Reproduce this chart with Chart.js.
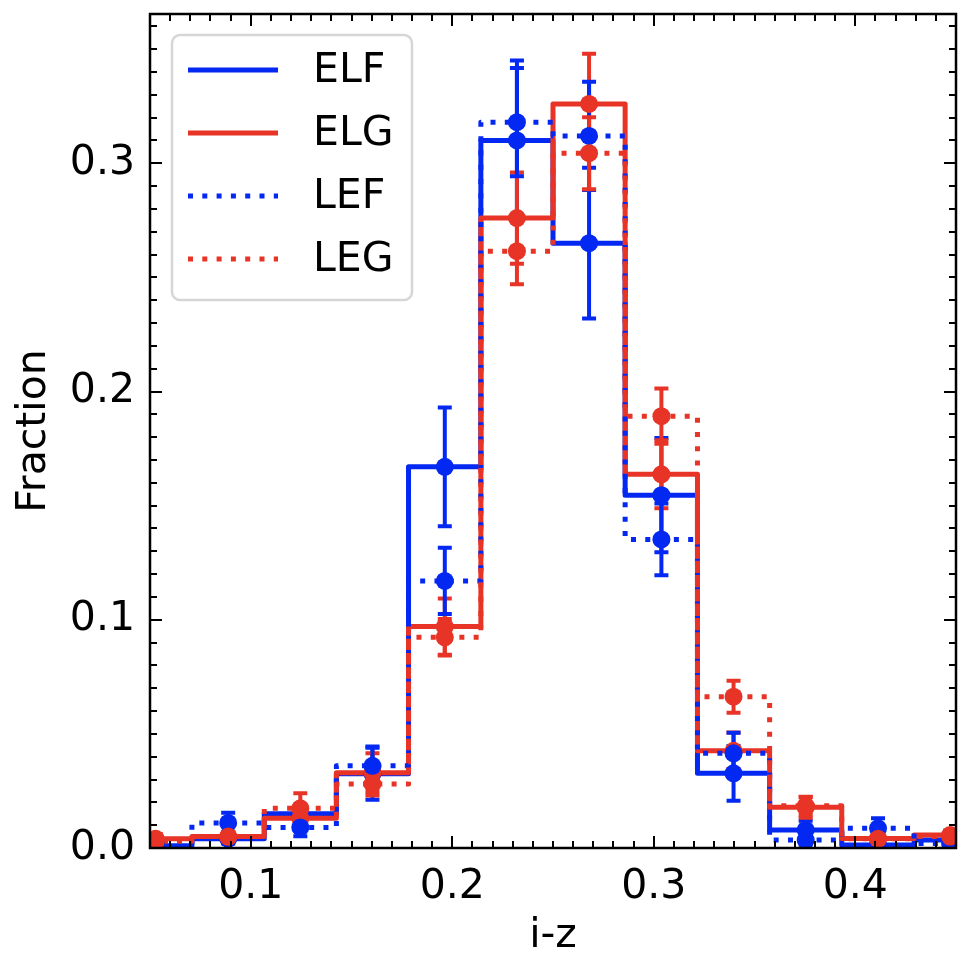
<!DOCTYPE html>
<html>
<head>
<meta charset="utf-8">
<script src="https://cdn.jsdelivr.net/npm/chart.js@4.4.1/dist/chart.umd.min.js"></script>
<style>
  html, body { margin: 0; padding: 0; background: #fff; }
  #wrap { width: 974px; height: 964px; }
</style>
</head>
<body>
<div id="wrap"><canvas id="histChart" width="974" height="964"></canvas></div>
<script>
// Histogram bins (i-z)
const binEdges = [0.035, 0.0708, 0.1067, 0.1425, 0.1783, 0.2142, 0.25, 0.2858, 0.3217, 0.3575, 0.3933, 0.4292, 0.465];
const binCenters = [0.0529, 0.0888, 0.1246, 0.1604, 0.1963, 0.2321, 0.2679, 0.3038, 0.3396, 0.3754, 0.4113, 0.4471];

// Fractions per bin and their errors
const elfFrac = [0.001, 0.004, 0.015, 0.0325, 0.167, 0.310, 0.265, 0.1546, 0.0327, 0.0079, 0.0013, 0.0035];
const elfErr  = [0.001, 0.002, 0.004, 0.0114, 0.026, 0.035, 0.033, 0.025, 0.012, 0.004, 0.001, 0.002];
const elgFrac = [0.004, 0.005, 0.013, 0.033, 0.097, 0.276, 0.326, 0.1637, 0.0426, 0.0178, 0.0042, 0.0057];
const elgErr  = [0.002, 0.002, 0.004, 0.0085, 0.0123, 0.020, 0.022, 0.0149, 0.008, 0.0045, 0.002, 0.002];
const lefFrac = [0.002, 0.011, 0.009, 0.036, 0.117, 0.318, 0.312, 0.1352, 0.0415, 0.0035, 0.0086, 0.002];
const lefErr  = [0.001, 0.0044, 0.0038, 0.0085, 0.0145, 0.0237, 0.0237, 0.0157, 0.009, 0.002, 0.0044, 0.001];
const legFrac = [0.003, 0.005, 0.0174, 0.028, 0.0923, 0.2615, 0.3044, 0.1892, 0.0663, 0.0185, 0.004, 0.005];
const legErr  = [0.0015, 0.002, 0.0066, 0.005, 0.008, 0.0145, 0.0158, 0.0121, 0.007, 0.004, 0.002, 0.002];

// Axis ticks
const xTickValues = [0.1, 0.2, 0.3, 0.4];
const xTickLabels = ['0.1', '0.2', '0.3', '0.4'];
const yTickValues = [0.0, 0.1, 0.2, 0.3];
const yTickLabels = ['0.0', '0.1', '0.2', '0.3'];
const minorStep = 0.01;

const BLUE = '#0328f2';
const RED = '#e83426';
const FONT = '"DejaVu Sans", sans-serif';
const DOTTED = [5, 9.3];

Chart.defaults.font.family = FONT;
Chart.defaults.color = '#000';

const series = [
    { label: 'ELF', color: BLUE, dash: [], values: elfFrac, errs: elfErr },
    { label: 'ELG', color: RED, dash: [], values: elgFrac, errs: elgErr },
    { label: 'LEF', color: BLUE, dash: DOTTED, values: lefFrac, errs: lefErr },
    { label: 'LEG', color: RED, dash: DOTTED, values: legFrac, errs: legErr }
];

function stepPoints(values) {
    const pts = values.map((v, i) => ({ x: binEdges[i], y: v }));
    pts.push({ x: binEdges[binEdges.length - 1], y: values[values.length - 1] });
    return pts;
}

// steps first (drawn under), then dots
const datasets = [];
series.forEach((s, i) => {
    datasets.push({
        type: 'line',
        label: s.label,
        data: stepPoints(s.values),
        borderColor: s.color,
        borderWidth: 5,
        borderDash: s.dash,
        borderJoinStyle: 'round',
        stepped: true,
        pointRadius: 0,
        fill: false,
        clip: 0,
        order: 8 - i
    });
});
const firstDotIndex = datasets.length;
series.forEach((s, i) => {
    datasets.push({
        type: 'scatter',
        label: s.label + ' pts',
        data: s.values.map((v, k) => ({ x: binCenters[k], y: v })),
        pointRadius: 9,
        pointBorderWidth: 0,
        pointBackgroundColor: s.color,
        showLine: false,
        clip: 0,
        order: 4 - i
    });
});

// Error bars go between the step lines and the markers
const errorBars = {
    id: 'errorBars',
    beforeDatasetDraw(chart, args) {
        if (args.index !== firstDotIndex) return;
        const { ctx, chartArea, scales: { x, y } } = chart;
        ctx.save();
        ctx.beginPath();
        ctx.rect(chartArea.left, chartArea.top, chartArea.right - chartArea.left, chartArea.bottom - chartArea.top);
        ctx.clip();
        series.forEach(s => {
            ctx.strokeStyle = s.color;
            ctx.lineWidth = 4;
            ctx.setLineDash([]);
            s.values.forEach((v, k) => {
                const px = x.getPixelForValue(binCenters[k]);
                const top = y.getPixelForValue(v + s.errs[k]);
                const bot = y.getPixelForValue(v - s.errs[k]);
                ctx.beginPath();
                ctx.moveTo(px, top); ctx.lineTo(px, bot);
                ctx.moveTo(px - 7, top); ctx.lineTo(px + 7, top);
                ctx.moveTo(px - 7, bot); ctx.lineTo(px + 7, bot);
                ctx.stroke();
            });
        });
        ctx.restore();
    }
};

// Inward ticks on all four sides plus the frame
const frameTicks = {
    id: 'frameTicks',
    afterDatasetsDraw(chart) {
        const { ctx, chartArea: a, scales: { x, y } } = chart;
        ctx.save();
        ctx.strokeStyle = '#000';
        ctx.lineWidth = 2;
        const isMajor = (v, majors) => majors.some(m => Math.abs(m - v) < 1e-6);
        const xStart = Math.ceil(x.min / minorStep - 1e-6);
        const xEnd = Math.floor(x.max / minorStep + 1e-6);
        for (let k = xStart; k <= xEnd; k++) {
            const v = k * minorStep;
            const px = Math.round(x.getPixelForValue(v));
            const len = isMajor(v, xTickValues) ? 12 : 7;
            ctx.beginPath();
            ctx.moveTo(px, a.bottom); ctx.lineTo(px, a.bottom - len);
            ctx.moveTo(px, a.top); ctx.lineTo(px, a.top + len);
            ctx.stroke();
        }
        const yEnd = Math.floor(y.max / minorStep + 1e-6);
        for (let k = 0; k <= yEnd; k++) {
            const v = k * minorStep;
            const py = Math.round(y.getPixelForValue(v));
            const len = isMajor(v, yTickValues) ? 12 : 7;
            ctx.beginPath();
            ctx.moveTo(a.left, py); ctx.lineTo(a.left + len, py);
            ctx.moveTo(a.right, py); ctx.lineTo(a.right - len, py);
            ctx.stroke();
        }
        ctx.lineWidth = 2.5;
        ctx.strokeRect(a.left, a.top, a.right - a.left, a.bottom - a.top);
        ctx.restore();
    }
};

// Matplotlib-style legend box in the upper left
const boxLegend = {
    id: 'boxLegend',
    afterDraw(chart) {
        const { ctx } = chart;
        const bx = 172, by = 35, bw = 240, bh = 265, r = 8;
        ctx.save();
        ctx.beginPath();
        ctx.roundRect(bx, by, bw, bh, r);
        ctx.fillStyle = 'rgba(255,255,255,0.8)';
        ctx.fill();
        ctx.lineWidth = 2.5;
        ctx.strokeStyle = '#d6d6d6';
        ctx.stroke();
        series.forEach((s, i) => {
            const ds = chart.data.datasets[i];
            const yy = 70 + 63 * i;
            ctx.beginPath();
            ctx.strokeStyle = ds.borderColor;
            ctx.lineWidth = ds.borderWidth;
            ctx.setLineDash(ds.borderDash);
            ctx.moveTo(188, yy);
            ctx.lineTo(278, yy);
            ctx.stroke();
            ctx.setLineDash([]);
            ctx.fillStyle = '#000';
            ctx.font = '41px ' + FONT;
            ctx.textBaseline = 'middle';
            ctx.textAlign = 'left';
            ctx.fillText(ds.label, 313, yy + 1);
        });
        ctx.restore();
    }
};

new Chart(document.getElementById('histChart').getContext('2d'), {
    data: { datasets: datasets },
    options: {
        responsive: false,
        animation: false,
        devicePixelRatio: 1,
        events: [],
        layout: { padding: { top: 14, right: 18, bottom: 0, left: 0 }, autoPadding: false },
        plugins: {
            legend: { display: false },
            tooltip: { enabled: false }
        },
        scales: {
            x: {
                type: 'linear',
                min: 0.05,
                max: 0.45,
                grid: { display: false, drawTicks: false },
                border: { display: false },
                afterBuildTicks: s => { s.ticks = xTickValues.map(v => ({ value: v })); },
                afterFit: s => { s.height = 116; s.paddingLeft = 0; s.paddingRight = 0; },
                ticks: {
                    autoSkip: false,
                    maxRotation: 0,
                    padding: 15,
                    font: { size: 41 },
                    color: '#000',
                    callback: (v, i) => xTickLabels[i]
                },
                title: {
                    display: true,
                    text: 'i-z',
                    font: { size: 41 },
                    color: '#000',
                    padding: { top: 0, bottom: 3 }
                }
            },
            y: {
                type: 'linear',
                min: 0,
                max: 0.3654,
                grid: { display: false, drawTicks: false },
                border: { display: false },
                afterBuildTicks: s => { s.ticks = yTickValues.map(v => ({ value: v })); },
                afterFit: s => { s.width = 150; s.paddingTop = 0; s.paddingBottom = 0; },
                ticks: {
                    autoSkip: false,
                    padding: 15,
                    font: { size: 41 },
                    color: '#000',
                    callback: (v, i) => yTickLabels[i]
                },
                title: {
                    display: true,
                    text: 'Fraction',
                    font: { size: 41 },
                    color: '#000',
                    padding: { top: 10, bottom: 0 }
                }
            }
        }
    },
    plugins: [errorBars, frameTicks, boxLegend]
});
</script>
</body>
</html>
